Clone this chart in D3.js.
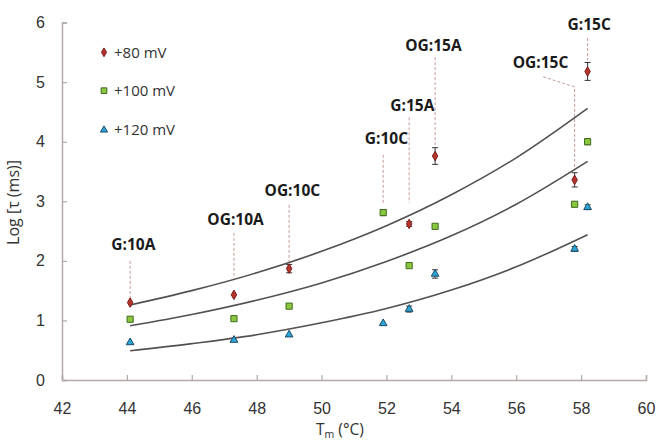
<!DOCTYPE html>
<html><head><meta charset="utf-8">
<script src="https://cdn.jsdelivr.net/npm/d3@7"></script>
<style>
html,body{margin:0;padding:0;background:#fff;}
svg{display:block;font-family:"Open Sans","Liberation Sans",sans-serif;}
</style></head>
<body>
<svg id="chart" width="658" height="442"></svg>
<script>
// ---- data ----
const tm = [44.1, 47.3, 49.0, 51.9, 52.7, 53.5, 57.8, 58.2];
const series80  = [1.30, 1.43, 1.87, null, 2.62, 3.76, 3.36, 5.18];
const err80     = [0.03, 0.03, 0.07, 0, 0.04, 0.14, 0.12, 0.15];
const series100 = [1.02, 1.03, 1.24, 2.81, 1.92, 2.58, 2.95, 4.00];
const err100    = [0.02, 0.02, 0.02, 0.05, 0.02, 0.02, 0.02, 0.05];
const series120 = [0.63, 0.67, 0.76, 0.95, 1.19, 1.78, 2.20, 2.90];
const err120    = [0.02, 0.02, 0.02, 0.02, 0.05, 0.07, 0.04, 0.04];
const seriesNames = ["+80 mV", "+100 mV", "+120 mV"];

// fitted curves
const fitX    = [44.1, 46, 48, 50, 52, 54, 56, 58.2];
const fit80   = [1.26, 1.50, 1.80, 2.16, 2.59, 3.11, 3.73, 4.56];
const fit100  = [0.91, 1.10, 1.34, 1.63, 1.99, 2.42, 2.95, 3.67];
const fit120  = [0.49, 0.61, 0.76, 0.96, 1.20, 1.51, 1.90, 2.44];

// annotations
const annLabels = ["G:10A", "OG:10A", "OG:10C", "G:10C", "G:15A", "OG:15A", "OG:15C", "G:15C"];
const annTextX  = [44.2, 47.35, 49.1, 52.0, 52.8, 53.45, 56.75, 58.25];
const annTextY  = [2.27, 2.70, 3.18, 4.06, 4.61, 5.61, 5.33, 5.97];
const annLeadX  = [44.1, 47.3, 49.0, 51.9, 52.7, 53.5, 57.8, 58.2];
const annLeadTop= [2.00, 2.47, 2.94, 3.78, 4.41, 5.42, 4.92, 5.74];
const annLeadBot= [1.38, 1.71, 1.98, 2.95, 2.97, 3.93, 3.52, 5.37];

const xTicks = [42, 44, 46, 48, 50, 52, 54, 56, 58, 60];
const yTicks = [0, 1, 2, 3, 4, 5, 6];

// ---- scales ----
const svg = d3.select("#chart");
const x = d3.scaleLinear().domain([42, 60]).range([62, 646]);
const y = d3.scaleLinear().domain([0, 6]).range([380, 22.6]);
const axisColor = "#b3a9a9";
const textColor = "#333";

// axes
const xAxis = svg.append("g").attr("transform", `translate(0,${y(0)})`)
  .call(d3.axisBottom(x).tickValues(xTicks).tickSize(-5).tickPadding(22).tickFormat(d3.format("d")));
const yAxis = svg.append("g").attr("transform", `translate(${x(42)},0)`)
  .call(d3.axisLeft(y).tickValues(yTicks).tickSize(-5).tickPadding(17).tickFormat(d3.format("d")));
[xAxis, yAxis].forEach(g => {
  g.select(".domain").attr("stroke", axisColor).attr("stroke-width", 1.5);
  g.selectAll(".tick line").attr("stroke", axisColor).attr("stroke-width", 1.2);
  g.selectAll(".tick text").attr("fill", textColor).attr("font-size", 16);
});
xAxis.selectAll(".tick text").attr("dy", "0.75em");

// axis titles
const xt = svg.append("text").attr("x", 340).attr("y", 435).attr("text-anchor", "middle")
  .attr("fill", textColor).attr("font-size", 15.5);
xt.append("tspan").text("T");
xt.append("tspan").attr("font-size", 10.5).attr("dy", 3).text("m");
xt.append("tspan").attr("dy", -3).text(" (°C)");
svg.append("text").attr("transform", `translate(19,${y(2.98)}) rotate(-90)`).attr("text-anchor", "middle")
  .attr("fill", textColor).attr("font-size", 16).text("Log [τ (ms)]");

// leader lines
const leaderColor = "#c99a9a";
annLabels.forEach((lab, i) => {
  let pts;
  if (lab === "OG:15C") {
    pts = [[x(56.83), y(5.09)], [x(annLeadX[i]), y(annLeadTop[i])], [x(annLeadX[i]), y(annLeadBot[i])]];
  } else {
    pts = [[x(annLeadX[i]), y(annLeadTop[i])], [x(annLeadX[i]), y(annLeadBot[i])]];
  }
  svg.append("path").attr("d", d3.line()(pts)).attr("fill", "none")
    .attr("stroke", leaderColor).attr("stroke-width", 1).attr("stroke-dasharray", "3,2");
});
svg.selectAll("text.ann").data(annLabels).join("text").attr("class", "ann")
  .attr("x", (d, i) => x(annTextX[i])).attr("y", (d, i) => y(annTextY[i]))
  .attr("dy", "0.36em").attr("text-anchor", "middle")
  .attr("font-weight", "bold").attr("font-size", 15.5).attr("fill", "#1a1a1a").text(d => d);

// fit curves
const line = d3.line().x((d, i) => x(fitX[i])).y(d => y(d)).curve(d3.curveMonotoneX);
[fit80, fit100, fit120].forEach(f => {
  svg.append("path").attr("d", line(f)).attr("fill", "none")
    .attr("stroke", "#555050").attr("stroke-width", 1.6);
});

// markers
const styles = [
  {fill: "#b8322e", stroke: "#7a1e1c", sym: d3.symbolDiamond, size: 26},
  {fill: "#8cc63e", stroke: "#3d6b1e", sym: d3.symbolSquare, size: 38},
  {fill: "#2aa6d6", stroke: "#1d4a66", sym: d3.symbolTriangle, size: 26}
];
const allSeries = [series80, series100, series120];
const allErr = [err80, err100, err120];
allSeries.forEach((s, k) => {
  const g = svg.append("g");
  s.forEach((v, i) => {
    if (v === null) return;
    const e = allErr[k][i];
    if (e > 0.03) {
      const cx = x(tm[i]);
      g.append("line").attr("x1", cx).attr("x2", cx).attr("y1", y(v - e)).attr("y2", y(v + e))
        .attr("stroke", "#333").attr("stroke-width", 1);
      [v - e, v + e].forEach(ev => g.append("line").attr("x1", cx - 3).attr("x2", cx + 3)
        .attr("y1", y(ev)).attr("y2", y(ev)).attr("stroke", "#333").attr("stroke-width", 1));
    }
    g.append("path").attr("d", d3.symbol().type(styles[k].sym).size(styles[k].size)())
      .attr("transform", `translate(${x(tm[i])},${y(v)})`)
      .attr("fill", styles[k].fill).attr("stroke", styles[k].stroke).attr("stroke-width", 1);
  });
});

// legend
const legY = [52.3, 90.7, 130];
seriesNames.forEach((n, k) => {
  svg.append("path").attr("d", d3.symbol().type(styles[k].sym).size(styles[k].size * 0.85)())
    .attr("transform", `translate(104,${legY[k]})`)
    .attr("fill", styles[k].fill).attr("stroke", styles[k].stroke).attr("stroke-width", 1);
  svg.append("text").attr("x", 114).attr("y", legY[k]).attr("dy", "0.36em")
    .attr("font-size", 15).attr("fill", textColor).text(n);
});
</script>
</body></html>
